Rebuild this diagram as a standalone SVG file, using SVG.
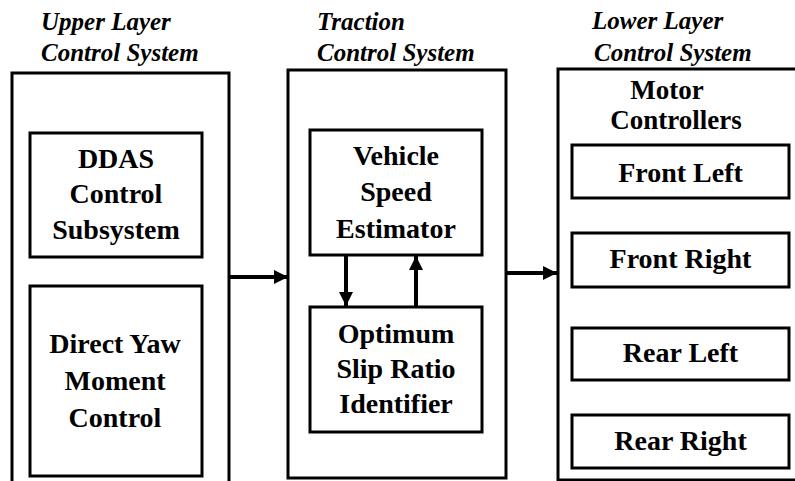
<svg xmlns="http://www.w3.org/2000/svg" width="795" height="481" viewBox="0 0 795 481">
<style>
.box{fill:none;stroke:#000;stroke-width:3}
.title{font-family:"Liberation Serif","DejaVu Serif",serif;font-style:italic;font-weight:bold;font-size:25px;fill:#000}
.lbl{font-family:"Liberation Serif","DejaVu Serif",serif;font-weight:bold;font-size:28px;fill:#000;text-anchor:middle}
.sm{font-size:27px}
.conn{stroke:#000;stroke-width:4;fill:none}
</style>
<defs>
<marker id="ah" markerUnits="userSpaceOnUse" markerWidth="14" markerHeight="14" viewBox="0 0 14 14" refX="14" refY="7" orient="auto">
<path d="M0,0 L14,7 L0,14 Z" fill="#000"/>
</marker>
</defs>
<rect width="795" height="481" fill="#fff"/>
<g id="upper">
<path class="box" d="M12,490 V73 H229 V490"/>
<text class="title" x="41" y="30">Upper Layer</text>
<text class="title" x="41" y="61">Control System</text>
</g>
<g id="ddas">
<rect class="box" x="30" y="133" width="172" height="124"/>
<text class="lbl" x="116" y="168">DDAS</text>
<text class="lbl" x="116" y="203">Control</text>
<text class="lbl" x="116" y="239">Subsystem</text>
</g>
<g id="dyc">
<rect class="box" x="30" y="286" width="172" height="190"/>
<text class="lbl" x="115" y="353">Direct Yaw</text>
<text class="lbl" x="115" y="390">Moment</text>
<text class="lbl" x="115" y="427">Control</text>
</g>
<g id="traction">
<rect class="box" x="288" y="70" width="218" height="408"/>
<text class="title" x="317" y="30">Traction</text>
<text class="title" x="317" y="61">Control System</text>
</g>
<g id="vse">
<rect class="box" x="310" y="130" width="172" height="125"/>
<text class="lbl" x="396" y="165">Vehicle</text>
<text class="lbl" x="396" y="201">Speed</text>
<text class="lbl" x="396" y="238">Estimator</text>
</g>
<g id="osri">
<rect class="box" x="310" y="307" width="172" height="125"/>
<text class="lbl" x="396" y="343">Optimum</text>
<text class="lbl" x="396" y="378">Slip Ratio</text>
<text class="lbl" x="396" y="413">Identifier</text>
</g>
<g id="lower">
<path class="box" d="M800,480 H558 V69 H800"/>
<text class="title" x="592" y="29">Lower Layer</text>
<text class="title" x="594" y="61">Control System</text>
<text class="lbl sm" x="667" y="99">Motor</text>
<text class="lbl sm" x="676" y="129">Controllers</text>
</g>
<g id="fl">
<rect class="box" x="572" y="145" width="217" height="53"/>
<text class="lbl" x="680.5" y="182">Front Left</text>
</g>
<g id="fr">
<rect class="box" x="572" y="233" width="217" height="54"/>
<text class="lbl" x="680.5" y="268">Front Right</text>
</g>
<g id="rl">
<rect class="box" x="572" y="328" width="217" height="52"/>
<text class="lbl" x="680.5" y="362">Rear Left</text>
</g>
<g id="rr">
<rect class="box" x="572" y="415" width="217" height="53"/>
<text class="lbl" x="680.5" y="450">Rear Right</text>
</g>
<g id="connectors">
<line class="conn" x1="229" y1="277" x2="288" y2="277" marker-end="url(#ah)"/>
<line class="conn" x1="506" y1="273" x2="557" y2="273" marker-end="url(#ah)"/>
<line class="conn" x1="346" y1="256" x2="346" y2="306" marker-end="url(#ah)"/>
<line class="conn" x1="416" y1="306" x2="416" y2="256" marker-end="url(#ah)"/>
</g>
</svg>
